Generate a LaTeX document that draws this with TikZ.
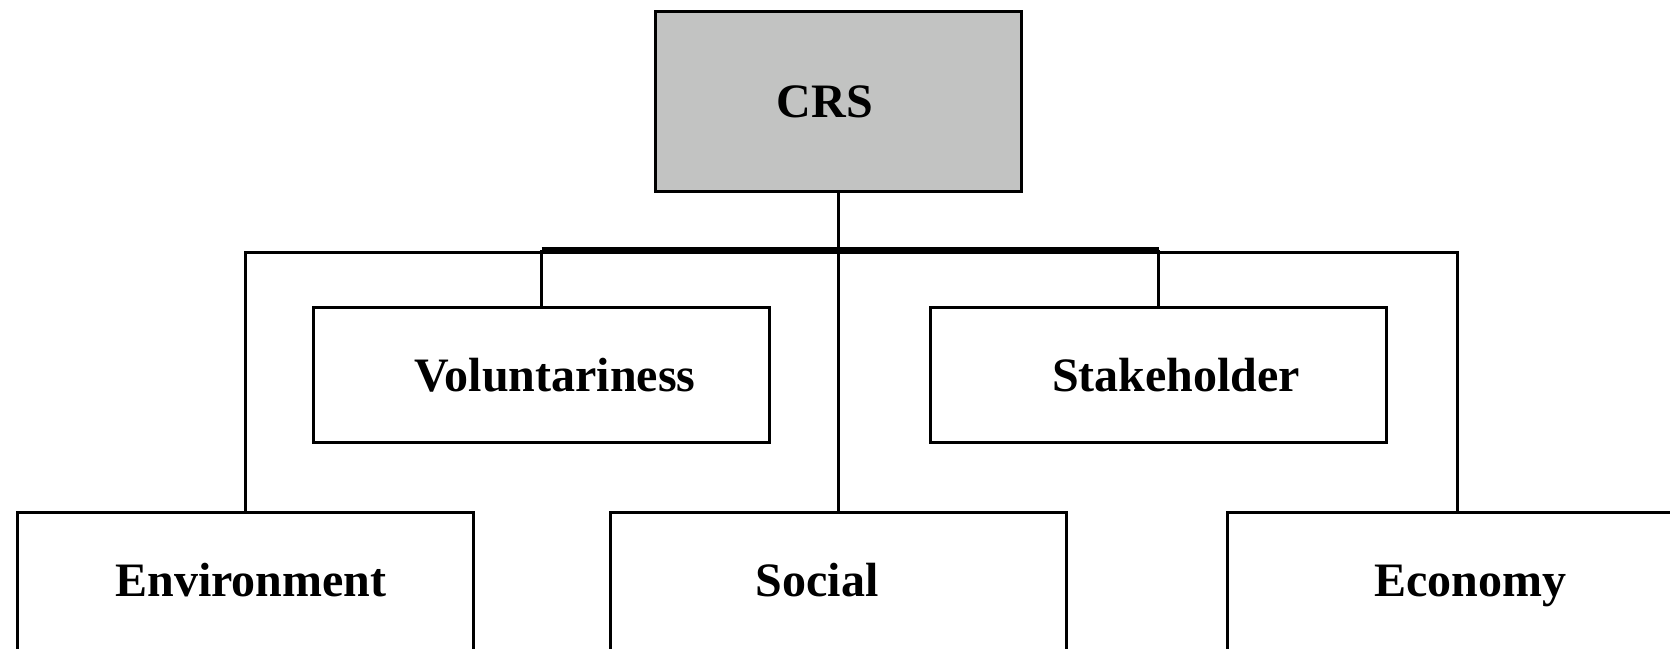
\documentclass[tikz,border=0pt]{standalone}
\usepackage{fontspec}
\setmainfont{Liberation Serif}
\begin{document}
\begin{tikzpicture}[x=0.5pt,y=-0.5pt,
  box/.style={draw=black, line width=1.5pt, rectangle, inner sep=0pt,
              minimum width=228pt, minimum height=67.5pt},
  topbox/.style={box, fill=crsgray, minimum width=183pt, minimum height=90pt},
  lowbox/.style={box, minimum height=84pt},
  lbl/.style={anchor=base, inner sep=0pt, font=\fontsize{24}{28}\selectfont\bfseries},
  link/.style={draw=black, line width=1.5pt},
  bar/.style={draw=black, line width=2.75pt}]
\definecolor{crsgray}{RGB}{194,195,194}
\useasboundingbox (0,0) rectangle (1670,648);

% boxes
\node[topbox] (crs) at (838,101) {};
\node[box] (vol) at (541.5,374.5) {};
\node[box] (stk) at (1158.5,374.5) {};
\node[lowbox] (env) at (245,596) {};
\node[lowbox] (soc) at (838,596) {};
\node[lowbox, minimum width=230pt] (eco) at (1457,596) {};

% labels
\node[lbl] (crst) at (825,117) {CRS};
\node[lbl] (volt) at (555,391) {Voluntariness};
\node[lbl] (stkt) at (1176,391) {Stakeholder};
\node[lbl] (envt) at (251,596) {Environment};
\node[lbl] (soct) at (817,596) {Social};
\node[lbl] (ecot) at (1470,596) {Economy};

% connectors
\coordinate (bus) at (838,252);
\coordinate (hub) at (838,250);
\draw[link] (env.north) |- (bus) -| (eco.north);
\draw[link] (crs.south) -- (soc.north);
\coordinate (barL) at (vol.north |- hub);
\coordinate (barR) at (stk.north |- hub);
\draw[link] (vol.north) -- (barL);
\draw[link] (stk.north) -- (barR);
\draw[bar] (barL) -- (barR);
\end{tikzpicture}
\end{document}
